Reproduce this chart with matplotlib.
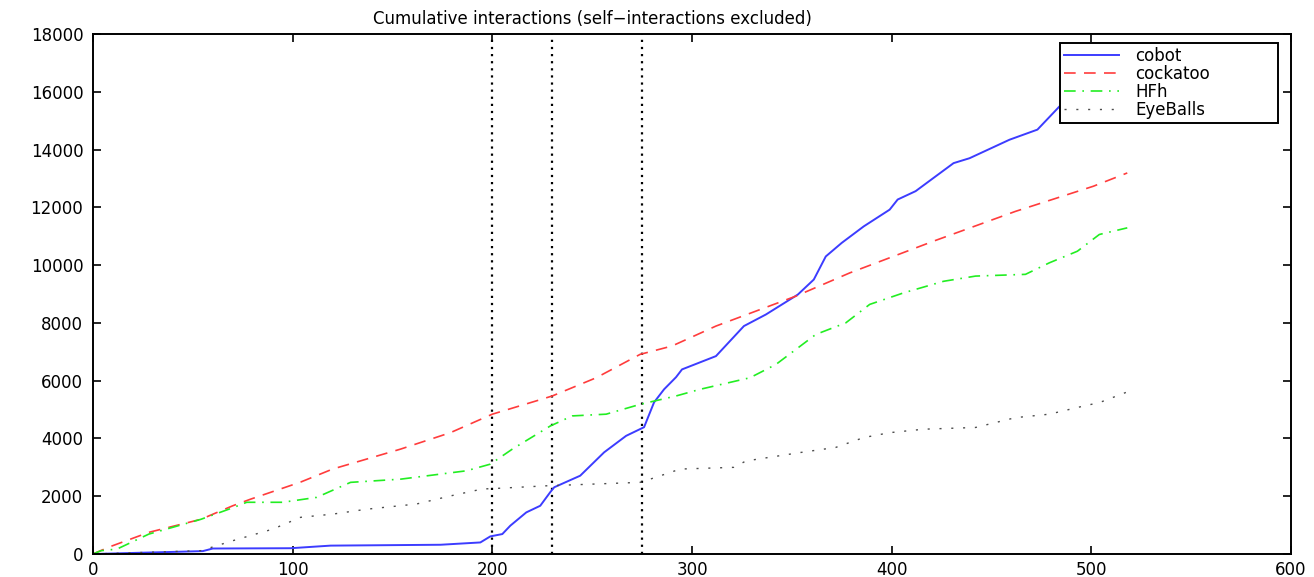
import matplotlib
matplotlib.use("Agg")
import matplotlib.pyplot as plt

plt.rcParams["font.family"] = ["DejaVu Sans"]

# values (x = time index, y = cumulative interactions)
cobot_x = [0, 44, 55, 60, 99, 119, 174, 194, 199, 205, 209, 217, 224, 229, 231,
           244, 256, 267, 276, 281, 286, 292, 295, 312, 326, 337, 353, 361, 367,
           375, 386, 399, 403, 412, 421, 431, 439, 459, 473, 484, 500, 520]
cobot_y = [0, 80, 100, 190, 200, 290, 320, 400, 610, 690, 980, 1440, 1670, 2140,
           2310, 2710, 3520, 4090, 4390, 5250, 5700, 6120, 6390, 6850, 7890,
           8290, 8980, 9500, 10300, 10770, 11340, 11920, 12270, 12560, 13020,
           13530, 13700, 14340, 14690, 15490, 16300, 17000]

cockatoo_x = [0, 8, 28, 54, 70, 79, 104, 120, 154, 179, 200, 222, 230, 252, 274,
              290, 312, 352, 379, 421, 462, 501, 518]
cockatoo_y = [0, 240, 750, 1200, 1670, 1900, 2490, 2940, 3630, 4200, 4840, 5300,
              5470, 6100, 6910, 7200, 7890, 8925, 9730, 10830, 11860, 12730, 13190]

hfh_x = [0, 4, 12, 28, 54, 70, 77, 95, 112, 129, 154, 187, 199, 210, 229, 240,
         257, 274, 292, 304, 329, 342, 352, 362, 377, 389, 406, 426, 442, 467,
         479, 493, 504, 518]
hfh_y = [0, 115, 170, 690, 1200, 1600, 1790, 1790, 1960, 2480, 2590, 2880, 3110,
         3630, 4430, 4780, 4840, 5180, 5470, 5700, 6100, 6560, 7080, 7600, 8000,
         8640, 9040, 9440, 9620, 9680, 10080, 10480, 11060, 11290]

eyeballs_x = [0, 28, 54, 70, 90, 104, 120, 137, 162, 179, 195, 202, 227, 274, 279,
              289, 294, 321, 327, 354, 372, 386, 399, 416, 442, 462, 479, 496, 504,
              518]
eyeballs_y = [0, 60, 115, 460, 860, 1270, 1380, 1550, 1730, 2010, 2250, 2270, 2360,
              2480, 2590, 2820, 2940, 3000, 3220, 3510, 3690, 4030, 4200, 4320,
              4380, 4720, 4840, 5120, 5240, 5610]

markers_x = [200, 230, 275]


def main():
    fig = plt.figure(figsize=(13.14, 5.77), dpi=100)
    # axes box: x 93..1291 px, y 34..554 px
    ax = fig.add_axes([93 / 1314, 23 / 577, 1198 / 1314, 520 / 577])

    ax.plot(cobot_x, cobot_y, color="#3c3cff", lw=1.4, label="cobot")
    ax.plot(cockatoo_x, cockatoo_y, color="#ff3c3c", lw=1.2, dashes=(7, 5),
            label="cockatoo")
    ax.plot(hfh_x, hfh_y, color="#22ee22", lw=1.2, dashes=(7, 4, 1, 4),
            label="HFh")
    ax.plot(eyeballs_x, eyeballs_y, color="0.3", lw=1.0, dashes=(1.5, 7),
            label="EyeBalls")

    # event markers
    for xv in markers_x:
        ax.axvline(xv, color="black", lw=1.6, dashes=(1, 2.2), zorder=1)

    ax.set_xlim(0, 600)
    ax.set_ylim(0, 18000)
    ax.set_xticks(range(0, 601, 100))
    ax.set_yticks(range(0, 18001, 2000))
    ax.tick_params(direction="in", top=True, right=True, length=6, width=1.2,
                   labelsize=12, colors="black")
    ax.tick_params(axis="x", pad=5)
    ax.tick_params(axis="y", pad=7)
    for s in ax.spines.values():
        s.set_linewidth(1.4)

    ax.set_title("Cumulative interactions (self\u2212interactions excluded)",
                 fontsize=12, pad=7, x=0.4165)

    leg = ax.legend(loc="upper left", fontsize=12, fancybox=False,
                    framealpha=1, edgecolor="black", borderpad=0.25,
                    labelspacing=0.0, handlelength=3.3, handletextpad=1.0,
                    mode="expand", borderaxespad=0,
                    bbox_to_anchor=(0.807, 0.983, 0.182, 0))
    leg.get_frame().set_linewidth(1.4)

    fig.savefig("out.png", dpi=100)


if __name__ == "__main__":
    main()
